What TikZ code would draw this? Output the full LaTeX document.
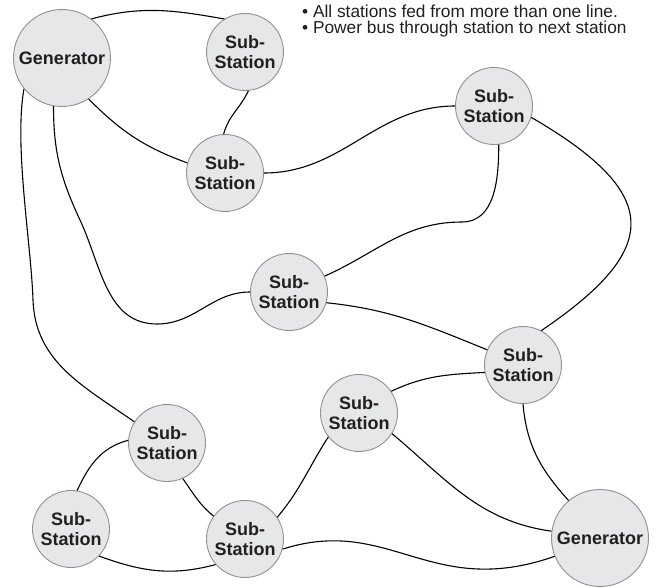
\documentclass[tikz,border=0pt]{standalone}
\usepackage{fontspec}
\setmainfont{Liberation Sans}
\usepackage{tikz}

\definecolor{discfill}{RGB}{230,231,232}
\definecolor{discline}{RGB}{145,145,145}
\definecolor{inkgray}{RGB}{35,31,32}

\tikzset{
  station/.style={circle, draw=discline, fill=discfill, line width=0.9pt,
    minimum size=77pt, inner sep=0pt, align=center, text=inkgray,
    font=\bfseries\fontsize{18}{20}\selectfont},
  plant/.style={station, minimum size=97pt},
  feeder/.style={black, line width=1.1pt},
  note/.style={anchor=base west, inner sep=0pt, text=inkgray,
    font=\fontsize{17.3}{18}\selectfont}
}

\begin{document}
\begin{tikzpicture}[x=1pt,y=1pt]
        \useasboundingbox (0,0) rectangle (664,-588);

        % stations
        \node[plant]   (g1) at (62,-58)   {Generator};
        \node[station] (s1) at (245,-52)  {Sub-\\Station};
        \node[station] (s2) at (225,-173) {Sub-\\Station};
        \node[station] (s3) at (494,-106) {Sub-\\Station};
        \node[station] (s4) at (289,-292) {Sub-\\Station};
        \node[station] (s5) at (523,-365) {Sub-\\Station};
        \node[station] (s6) at (359,-413) {Sub-\\Station};
        \node[station] (s7) at (167,-443) {Sub-\\Station};
        \node[station] (s8) at (71,-529)  {Sub-\\Station};
        \node[station] (s9) at (245,-539) {Sub-\\Station};
        \node[plant]   (g2) at (600,-538) {Generator};

        \node[note] (notea) at (302,-18) {• All stations fed from more than one line.};
        \node[note] (noteb) at (302,-34) {• Power bus through station to next station};

        % lines
        \draw[feeder] (g1.53) to[out=15,in=170] (s1.122);
        \draw[feeder] (g1.-57) to[out=-45,in=160] (s2.165);
        \draw[feeder] (s1.-85) to[out=-115,in=75] (s2.92);
        \draw[feeder] (s2.0) to[out=0,in=180] (s3.180);
        \draw[feeder] (s3.-83) to[out=-90,in=0] (462,-222) to[out=180,in=24] (s4.24);
        \draw[feeder] (s3.-17) .. controls (665,-195) and (660,-250) .. (s5.62);
        \draw[feeder] (g1.-100) to[out=-90,in=115] (80,-220)
            to[out=-65,in=180] (157,-324) to[out=0,in=180] (s4.180);
        \draw[feeder] (g1.-141) to[out=-100,in=92,looseness=0.7] (33,-300)
            to[out=-88,in=145] (s7.147);
        \draw[feeder] (s4.-16) to[out=-6,in=158] (s5.157);
        \draw[feeder] (s6.34) to[out=25,in=183] (s5.191);
        \draw[feeder] (s5.-90) to[out=-85,in=132] (g2.130);
        \draw[feeder] (s6.-32) to[out=-40,in=172] (g2.172);
        \draw[feeder] (s9.-15) .. controls (390,-515) and (430,-600) .. (g2.202);
        \draw[feeder] (s9.34) to[out=50,in=237] (s6.218);
        \draw[feeder] (s7.-66) to[out=-55,in=140] (s9.144);
        \draw[feeder] (s7.176) to[out=195,in=65] (s8.81);
        \draw[feeder] (s8.-44) to[out=-20,in=195] (s9.221);
\end{tikzpicture}
\end{document}
